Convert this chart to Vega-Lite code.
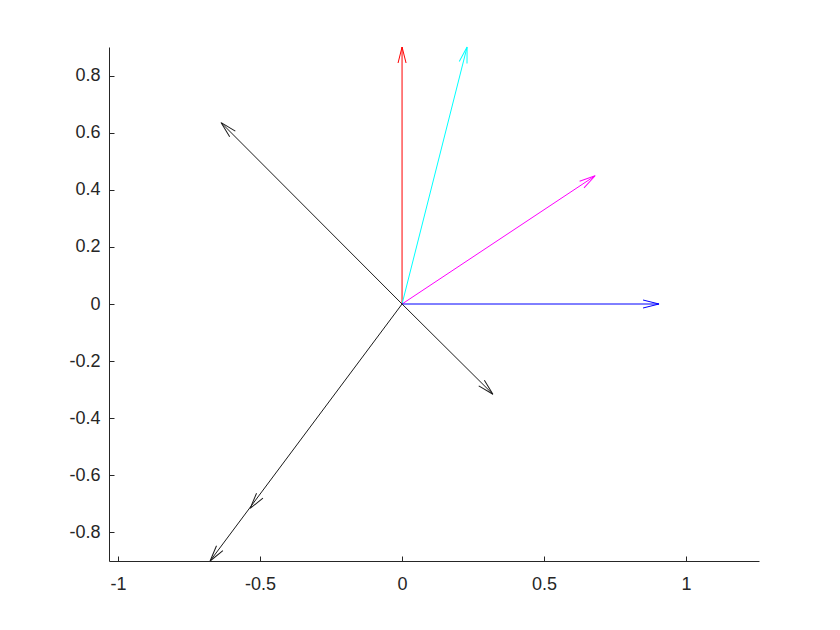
{
  "$schema": "https://vega.github.io/schema/vega-lite/v6.json",
  "width": 650,
  "height": 514,
  "autosize": {"type": "none"},
  "padding": {"left": 109, "top": 47, "right": 81, "bottom": 69},
  "background": "white",
  "config": {
    "view": {"stroke": null},
    "axis": {
      "grid": false,
      "domainColor": "#262626",
      "tickColor": "#262626",
      "labelColor": "#262626",
      "labelFont": "Liberation Sans",
      "labelFontSize": 18,
      "tickSize": -5,
      "domainWidth": 1,
      "tickWidth": 1,
      "title": null
    }
  },
  "data": {
    "values": [
      {"id": "red", "x0": 0, "y0": 0, "tx": 0, "ty": 0.9, "dir": 0},
      {"id": "cyan", "x0": 0, "y0": 0, "tx": 0.229, "ty": 0.9, "dir": 14.3},
      {"id": "magenta", "x0": 0, "y0": 0, "tx": 0.68, "ty": 0.449, "dir": 56.6},
      {"id": "blue", "x0": 0, "y0": 0, "tx": 0.905, "ty": 0, "dir": 90},
      {"id": "nw", "x0": 0, "y0": 0, "tx": -0.637, "ty": 0.635, "dir": 314.9},
      {"id": "se", "x0": 0, "y0": 0, "tx": 0.32, "ty": -0.316, "dir": 134.7},
      {"id": "sw1", "x0": 0, "y0": 0, "tx": -0.535, "ty": -0.716, "dir": 216.9},
      {"id": "sw2", "x0": 0, "y0": 0, "tx": -0.676, "ty": -0.9, "dir": 216.9}
    ]
  },
  "encoding": {
    "color": {
      "field": "id",
      "type": "nominal",
      "legend": null,
      "scale": {
        "domain": ["red", "cyan", "magenta", "blue", "nw", "se", "sw1", "sw2"],
        "range": ["#FF0000", "#00FFFF", "#FF00FF", "#0000FF", "#1a1a1a", "#1a1a1a", "#1a1a1a", "#1a1a1a"]
      }
    }
  },
  "layer": [
    {
      "transform": [{"filter": "datum.id != 'sw1'"}],
      "mark": {"type": "rule", "strokeWidth": 1, "clip": true},
      "encoding": {
        "x": {
          "field": "x0",
          "type": "quantitative",
          "scale": {"domain": [-1.032, 1.257], "nice": false, "zero": false},
          "axis": {"values": [-1, -0.5, 0, 0.5, 1], "format": ".1~f", "labelExpr": "replace(datum.label, '−', '-')", "labelPadding": 19}
        },
        "y": {
          "field": "y0",
          "type": "quantitative",
          "scale": {"domain": [-0.9, 0.9], "nice": false, "zero": false},
          "axis": {"values": [-0.8, -0.6, -0.4, -0.2, 0, 0.2, 0.4, 0.6, 0.8], "format": ".1~f", "labelExpr": "replace(datum.label, '−', '-')", "labelPadding": 14}
        },
        "x2": {"field": "tx"},
        "y2": {"field": "ty"}
      }
    },
    {
      "mark": {"type": "point", "filled": false, "strokeWidth": 1, "opacity": 1, "shape": "M-0.25,1L0,0L0.25,1"},
      "encoding": {
        "x": {"field": "tx", "type": "quantitative"},
        "y": {"field": "ty", "type": "quantitative"},
        "angle": {"field": "dir", "type": "quantitative", "scale": null},
        "size": {
          "field": "id",
          "type": "nominal",
          "legend": null,
          "scale": {
            "domain": ["red", "cyan", "magenta", "blue", "nw", "se", "sw1", "sw2"],
            "range": [1024, 1024, 1024, 1024, 256, 81, 676, 900]
          }
        }
      }
    }
  ]
}
